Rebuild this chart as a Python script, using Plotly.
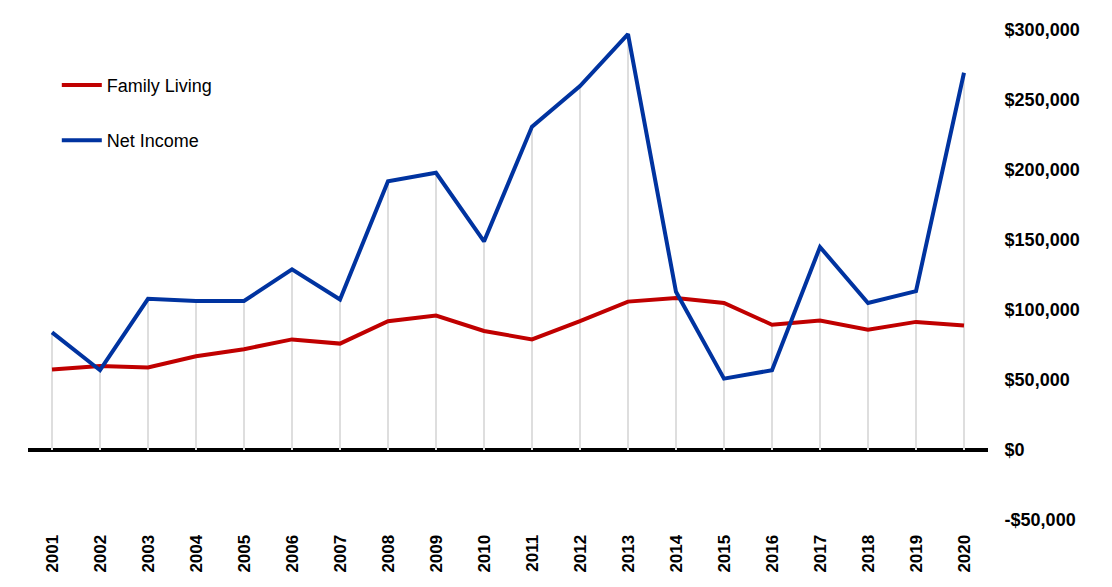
import plotly.graph_objects as go

years = [str(y) for y in range(2001, 2021)]
family_living = [57500, 60000, 59000, 67000, 72000, 79000, 76000, 92000, 96000, 85000,
                 79000, 92000, 106000, 108500, 105000, 89500, 92500, 86000, 91500, 89000]
net_income = [84000, 57000, 108000, 106500, 106500, 129000, 107500, 192000, 198000, 149000,
              231000, 260000, 297000, 113000, 51000, 57000, 145000, 105000, 113500, 269500]
y_ticks = [-50000, 0, 50000, 100000, 150000, 200000, 250000, 300000]
y_tick_labels = ["-$50,000", "$0", "$50,000", "$100,000", "$150,000", "$200,000", "$250,000", "$300,000"]

# drop lines from zero to the higher of the two series at each year
drop_x, drop_y = [], []
for yr, a, b in zip(years, family_living, net_income):
    drop_x += [yr, yr, None]
    drop_y += [0, max(a, b), None]

fig = go.Figure()
fig.add_trace(go.Scatter(x=drop_x, y=drop_y, mode="lines",
                         line=dict(color="#dedede", width=2),
                         showlegend=False, hoverinfo="skip"))
fig.add_trace(go.Scatter(x=years, y=family_living, mode="lines", name="Family Living",
                         line=dict(color="#c00000", width=4), legendgroup="a"))
fig.add_trace(go.Scatter(x=years, y=net_income, mode="lines", name="Net Income",
                         line=dict(color="#0033a0", width=4), legendgroup="b"))

fig.update_layout(
    width=1112, height=587,
    margin=dict(l=20, r=132, t=18, b=75),
    paper_bgcolor="white", plot_bgcolor="white",
    font=dict(family="Liberation Sans, Arial, sans-serif", color="black"),
    legend=dict(x=0.03, y=0.925, xanchor="left", yanchor="top",
                font=dict(size=18), itemwidth=40, tracegroupgap=29,
                bgcolor="rgba(0,0,0,0)"),
    xaxis=dict(type="category", categoryorder="array", categoryarray=years,
               range=[-0.5, 19.5], showgrid=False, showline=False, zeroline=False,
               tickangle=-90, ticks="outside", ticklen=7, tickcolor="white",
               tickfont=dict(size=17, family="Liberation Sans, Arial, sans-serif"),
               tickprefix="<b>", ticksuffix="</b>"),
    yaxis=dict(side="right", range=[-50000, 300000], tickvals=y_ticks,
               ticktext=["<b>" + t + "</b>" for t in y_tick_labels],
               showgrid=False, showline=False,
               zeroline=True, zerolinecolor="black", zerolinewidth=4,
               ticks="outside", ticklen=12, tickcolor="white",
               tickfont=dict(size=18)),
)

fig.write_html("out.html")
